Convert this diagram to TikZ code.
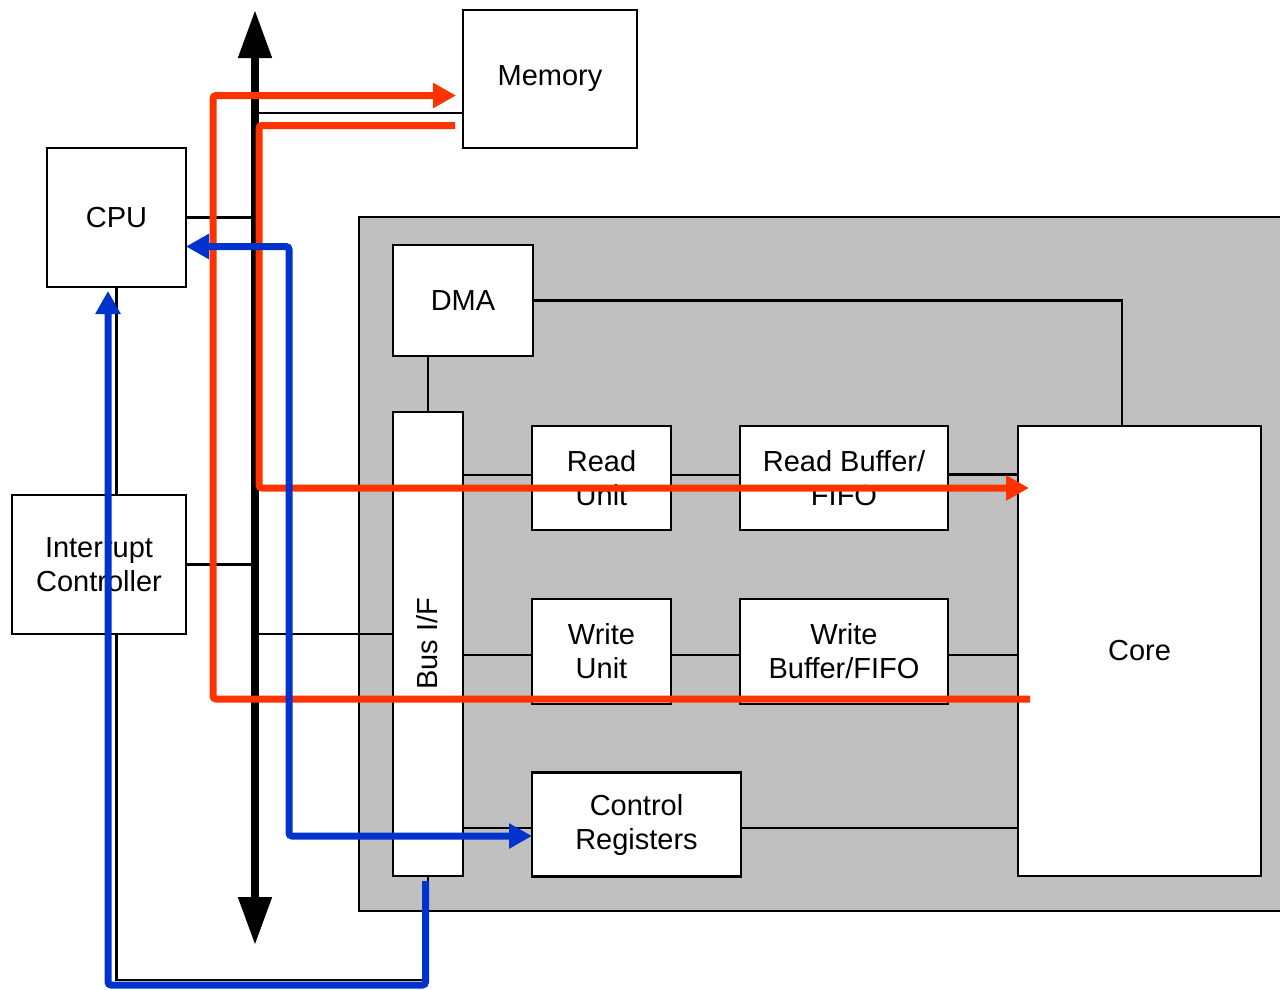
\documentclass[tikz,border=0pt]{standalone}
\usepackage{fontspec}
\setmainfont{Liberation Sans}
\usetikzlibrary{arrows.meta,calc,backgrounds}
\definecolor{flowred}{HTML}{FF3300}
\definecolor{flowblue}{HTML}{0033CC}
\definecolor{panelgray}{HTML}{C0C0C0}
\begin{document}
\begin{tikzpicture}[x=1pt,y=-1pt,
  box/.style={draw, fill=white, line width=2.5pt, inner sep=0pt, outer sep=0pt,
    align=center, font=\fontsize{29}{34}\selectfont},
  lbl/.style={inner sep=0pt, font=\fontsize{29}{34}\selectfont},
  wire/.style={line width=2.5pt},
  busarrow/.style={line width=8pt,
    {Triangle[length=48pt,width=32pt]}-{Triangle[length=48pt,width=32pt]}},
  redflow/.style={draw=flowred, line width=7pt, rounded corners=3pt},
  blueflow/.style={draw=flowblue, line width=7pt, rounded corners=3pt},
  ftip/.tip={Triangle[length=23pt,width=24pt]}
]
\useasboundingbox (0,0) rectangle (1280,989);

% boxes
\node[box, minimum width=174pt, minimum height=138pt] (memory) at (550,79) {Memory};
\node[box, minimum width=139pt, minimum height=139pt] (cpu) at (116.5,217.5) {CPU};
\node[box, minimum width=174pt, minimum height=139pt] (intc) at (99,564.5) {Interrupt\\Controller};

% panel placeholder drawn on background
\node[box, minimum width=140pt, minimum height=111pt] (dma) at (463,300.5) {DMA};
\node[box, minimum width=70pt, minimum height=464pt] (busif) at (428,644) {};
\node[lbl, rotate=90] (busiflabel) at (427,644) {Bus I/F};
\node[box, minimum width=139pt, minimum height=104pt] (ru) at (601.5,478) {Read\\Unit};
\node[box, minimum width=208pt, minimum height=104pt] (rb) at (844,478) {Read Buffer/\\FIFO};
\node[box, minimum width=243pt, minimum height=450pt] (core) at (1139.5,651) {Core};
\node[box, minimum width=139pt, minimum height=105pt] (wu) at (601.5,651.5) {Write\\Unit};
\node[box, minimum width=208pt, minimum height=105pt] (wb) at (844,651.5) {Write\\Buffer/FIFO};
\node[box, minimum width=209pt, minimum height=104pt] (cr) at (636.5,824.5) {Control\\Registers};

\coordinate (busx) at (255,0);
\coordinate (bustop) at (255,10);
\coordinate (busbot) at (255,945);
\coordinate (loopy) at (0,980);

\begin{pgfonlayer}{background}
  \draw[line width=2.5pt, fill=panelgray] (359,217) rectangle (1290,911);
  % thin wires
  \draw[wire] ([yshift=-34pt]memory.west) -- ([yshift=-34pt]memory.west -| busx);
  \draw[wire] (cpu.east) -- (cpu.east -| busx);
  \draw[wire] (intc.east) -- (intc.east -| busx);
  \draw[wire] ([yshift=10pt]busif.west) -- ([yshift=10pt]busif.west -| busx);
  \draw[wire] (busif.north) -- (busif.north |- dma.south);
  \draw[wire] (dma.east) -| ([xshift=-17.5pt]core.north);
  \draw[wire] ([yshift=3pt]ru.west) -- ([yshift=3pt]ru.west -| busif.east);
  \draw[wire] ([yshift=3pt]ru.east) -- ([yshift=3pt]rb.west);
  \draw[wire] ([yshift=3.5pt]rb.east) -- ([yshift=3.5pt]rb.east -| core.west);
  \draw[wire] ([yshift=-3.5pt]wu.west) -- ([yshift=-3.5pt]wu.west -| busif.east);
  \draw[wire] ([yshift=-3.5pt]wu.east) -- ([yshift=-3.5pt]wb.west);
  \draw[wire] ([yshift=-3.5pt]wb.east) -- ([yshift=-3.5pt]wb.east -| core.west);
  \draw[wire] ([yshift=-3.5pt]cr.west) -- ([yshift=-3.5pt]cr.west -| busif.east);
  \draw[wire] ([yshift=-3.5pt]cr.east) -- ([yshift=-3.5pt]cr.east -| core.west);
  \draw[wire] (busif.south) -- (busif.south |- loopy) -| (cpu.south);
\end{pgfonlayer}

% system bus
\draw[busarrow] (busbot) -- (bustop);

% red data flows
\coordinate (r1s) at (1030,699);
\coordinate (r1c) at (213,95.5);
\draw[redflow, -{ftip}] (r1s) -| (r1c) -- ([xshift=-7pt,yshift=-16.5pt]memory.west);
\coordinate (r2c) at (259,488);
\coordinate (r2e) at (1029,488);
\draw[redflow, -{ftip}] ([xshift=-8pt,yshift=-46.5pt]memory.west) -| (r2c) -- (r2e);

% blue control flows
\coordinate (bx) at (289,0);
\draw[blueflow, {ftip}-{ftip}] ([yshift=-29pt]cpu.east) -| ([yshift=-11.5pt]cr.west -| bx) -- ([yshift=-11.5pt]cr.west);
\coordinate (bcorner) at (108,985);
\draw[blueflow, -{ftip}] ([xshift=-2.5pt,yshift=-5pt]busif.south) |- (bcorner) -- ([xshift=-8.5pt,yshift=-4pt]cpu.south);
\end{tikzpicture}
\end{document}
